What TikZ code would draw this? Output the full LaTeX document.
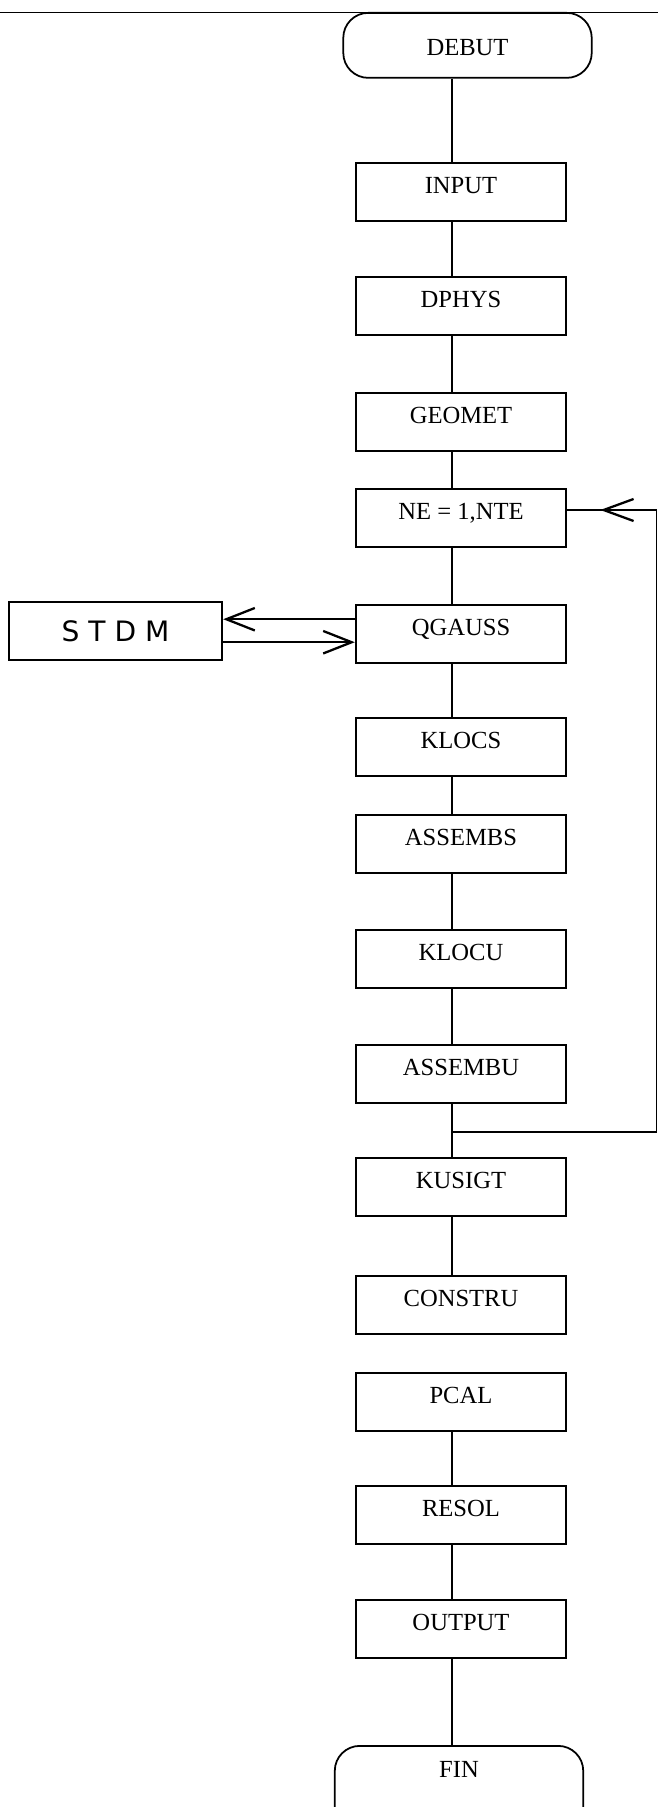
\documentclass[tikz,border=0pt]{standalone}
\usepackage{fontspec}
\setmainfont{Liberation Serif}
\newfontfamily\handfont{DejaVu Sans}
\usetikzlibrary{arrows.meta,%
                decorations.markings,%
                positioning}

\tikzset{
  prog/.style={draw, line width=1.4pt, minimum width=4.2cm, inner sep=0pt,
    text height=0.6cm, text depth=0.56cm, anchor=north,
    font=\fontsize{14}{16}\selectfont},
  term/.style={draw, line width=1pt, rounded corners=0.5cm, minimum width=4.97cm,
    inner sep=0pt, anchor=north, font=\fontsize{14}{16}\selectfont},
  sub/.style={draw, line width=1.4pt, minimum width=4.26cm, minimum height=1.16cm,
    inner sep=0pt, font=\handfont\fontsize{16}{18}\selectfont},
  link/.style={line width=1.2pt},
  retour/.style={line width=0.8pt},
  barb/.style={-{Straight Barb[length=0.57cm,width=0.45cm,line width=1.3pt]}},
  midbarb/.style={postaction={decorate}, decoration={markings,
    mark=at position 0.63 with {\arrow{Straight Barb[length=0.6cm,width=0.44cm,line width=1.3pt]}}}}
}

\begin{document}
\begin{tikzpicture}[x=0.02cm, y=-0.02cm]
      \clip (0,0) rectangle (658,1807);

      % top rule of the page
      \draw[line width=1pt] (0,12.5) -- (658,12.5);

      \node[term, text height=0.86cm, text depth=0.44cm] (debut) at (467.5,12) {DEBUT};

      \node[prog] (input)   at (461,162)  {INPUT};
      \node[prog] (dphys)   at (461,276)  {DPHYS};
      \node[prog] (geomet)  at (461,392)  {GEOMET};
      \node[prog] (ne)      at (461,488)  {NE = 1,NTE};
      \node[prog] (qgauss)  at (461,604)  {QGAUSS};
      \node[prog] (klocs)   at (461,717)  {KLOCS};
      \node[prog] (assembs) at (461,814)  {ASSEMBS};
      \node[prog] (klocu)   at (461,929)  {KLOCU};
      \node[prog] (assembu) at (461,1044) {ASSEMBU};
      \node[prog] (kusigt)  at (461,1157) {KUSIGT};
      \node[prog] (constru) at (461,1275) {CONSTRU};
      \node[prog] (pcal)    at (461,1372) {PCAL};
      \node[prog] (resol)   at (461,1485) {RESOL};
      \node[prog] (output)  at (461,1599) {OUTPUT};

      \node[term, text height=0.64cm, text depth=1.1cm] (fin) at (459,1745) {FIN};

      \node[sub] (stdm) at (115.5,631) {S T D M};

      % main line
      \coordinate (spine) at (452,0);
      \foreach \a/\b in {debut/input, input/dphys, dphys/geomet, geomet/ne,
                         ne/qgauss, qgauss/klocs, klocs/assembs, assembs/klocu,
                         klocu/assembu, assembu/kusigt, kusigt/constru,
                         pcal/resol, resol/output, output/fin}
        \draw[link] (\a.south -| spine) -- (\b.north -| spine);

      % call of STDM
      \draw[link, barb] ([yshift=0.3cm]qgauss.west) -- ([yshift=0.3cm]qgauss.west -| stdm.east);
      \draw[link, barb] ([yshift=-0.16cm]qgauss.west -| stdm.east) -- ([yshift=-0.16cm]qgauss.west);

      % loop on the elements
      \coordinate (loopin) at (452,1132);
      \coordinate (back) at (656.5,510);
      \draw[retour] (loopin) -| (back);
      \draw[retour, midbarb] (back) -- (ne.east |- back);

%      \draw[link] (constru.south -| spine) -- (pcal.north -| spine);
\end{tikzpicture}
\end{document}
